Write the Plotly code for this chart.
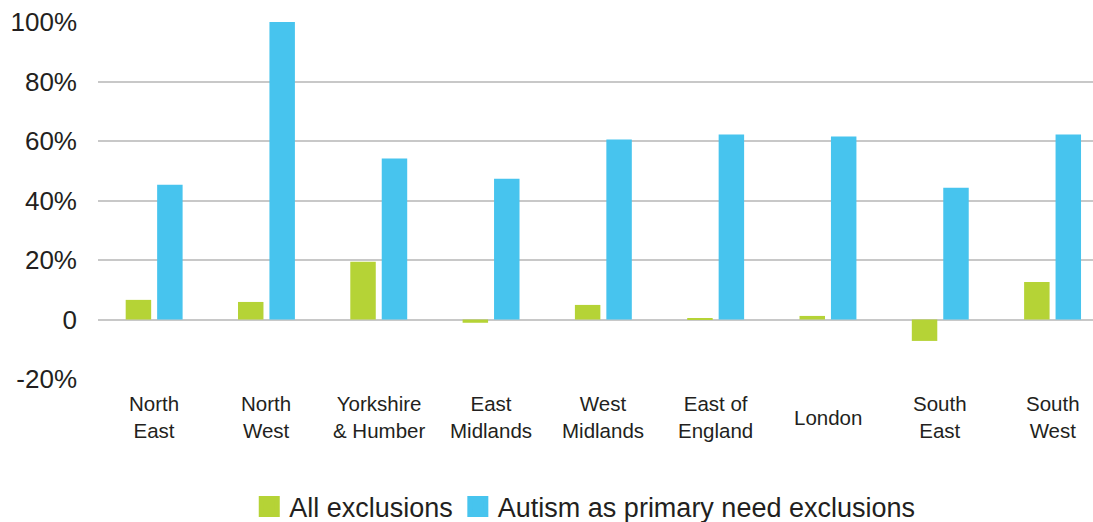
import plotly.graph_objects as go

regions = ["North East", "North West", "Yorkshire & Humber", "East Midlands",
           "West Midlands", "East of England", "London", "South East", "South West"]
region_labels = ["North<br>East", "North<br>West", "Yorkshire<br>& Humber", "East<br>Midlands",
                 "West<br>Midlands", "East of<br>England", "London", "South<br>East", "South<br>West"]
all_exclusions = [6.6, 5.9, 19.4, -1.1, 4.9, 0.3, 1.2, -7.2, 12.6]
autism_exclusions = [45.3, 100.0, 54.1, 47.3, 60.5, 62.2, 61.5, 44.3, 62.2]
series_names = ["All exclusions", "Autism as primary need exclusions"]
colors = ["#b5d336", "#47c4ee"]
y_ticks = [-20, 0, 20, 40, 60, 80, 100]
y_tick_text = ["-20%", "0", "20%", "40%", "60%", "80%", "100%"]

FONT = "Liberation Sans, Arial, Helvetica, sans-serif"
TXT = "#231f20"

fig = go.Figure()
for name, vals, col in zip(series_names, [all_exclusions, autism_exclusions], colors):
    fig.add_trace(go.Bar(x=regions, y=vals, name=name, marker_color=col,
                         marker_line_width=0, showlegend=False))
    # legend-only swatch (larger square)
    fig.add_trace(go.Scatter(x=[None], y=[None], mode="markers", name=name,
                             marker=dict(symbol="square", size=16, color=col,
                                         line=dict(color=col, width=5)),
                             showlegend=True))

for reg, lab in zip(regions, region_labels):
    fig.add_annotation(x=reg, y=-0.107, xref="x", yref="paper", text=lab,
                       showarrow=False, yanchor="middle", xanchor="center",
                       font=dict(family=FONT, size=20.5, color=TXT))

fig.update_layout(
    width=1093, height=522,
    margin=dict(l=98, r=0, t=22, b=143, autoexpand=False),
    paper_bgcolor="white", plot_bgcolor="white",
    barmode="group", bargap=0.44, bargroupgap=0.19,
    font=dict(family=FONT, color=TXT),
    legend=dict(orientation="h", xref="container", yref="container",
                x=0.535, xanchor="center", y=0.029, yanchor="middle",
                font=dict(family=FONT, size=27, color=TXT), itemwidth=30,
                traceorder="normal"),
    xaxis=dict(type="category", range=[-0.5, 8.36], showticklabels=False,
               showgrid=False, zeroline=False, showline=False, ticks=""),
    yaxis=dict(range=[-20, 100], tickvals=y_ticks, ticktext=y_tick_text,
               showgrid=True, gridcolor="#c8c8c8", gridwidth=1.5,
               zeroline=True, zerolinecolor="#c8c8c8", zerolinewidth=1.5,
               showline=False, ticks="", ticklabelstandoff=20,
               tickfont=dict(family=FONT, size=26, color=TXT)),
)

fig.write_html("out.html")
